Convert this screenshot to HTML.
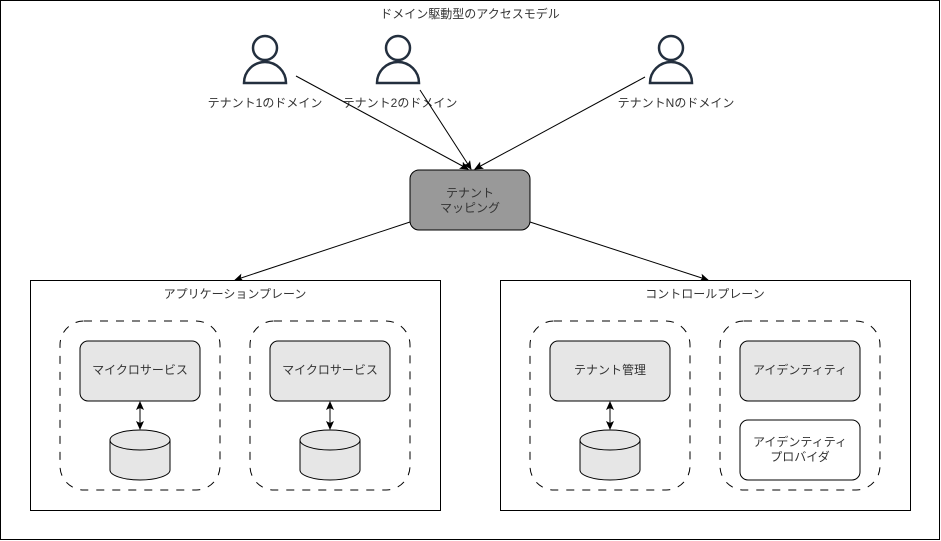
<!DOCTYPE html>
<html><head><meta charset="utf-8"><style>
html,body{margin:0;padding:0;background:#fff;}
svg{display:block;}
text{font-family:"Liberation Sans","Noto Sans CJK JP",sans-serif;font-size:12px;fill:#333;text-anchor:middle;}
</style></head><body>
<svg width="941" height="541" viewBox="0 0 941 541">
<defs>
<marker id="a" markerWidth="10" markerHeight="10" refX="8" refY="4" orient="auto" markerUnits="userSpaceOnUse">
<path d="M0,0 L9,4 L0,8 L2,4 Z" fill="#000"/></marker>
<marker id="as" markerWidth="10" markerHeight="10" refX="1" refY="4" orient="auto" markerUnits="userSpaceOnUse">
<path d="M9,0 L0,4 L9,8 L7,4 Z" fill="#000"/></marker>
</defs>
<rect x="0.5" y="0.5" width="939" height="539" fill="#fff" stroke="#000"/>
<text x="470" y="18">ドメイン駆動型のアクセスモデル</text>

<g fill="none" stroke="#232f3e" stroke-width="2.5">
<circle cx="265" cy="48" r="12"/><path d="M244,83 A21,21 0 0 1 286,83 Z"/>
<circle cx="398" cy="48" r="12"/><path d="M377,83 A21,21 0 0 1 419,83 Z"/>
<circle cx="671" cy="48" r="12"/><path d="M650,83 A21,21 0 0 1 692,83 Z"/>
</g>
<text x="265" y="107">テナント1のドメイン</text>
<text x="400" y="107">テナント2のドメイン</text>
<text x="676" y="107">テナントNのドメイン</text>

<g stroke="#000" stroke-width="1" fill="none">
<line x1="296" y1="76" x2="468" y2="169" marker-end="url(#a)"/>
<line x1="420" y1="90" x2="471" y2="169" marker-end="url(#a)"/>
<line x1="645" y1="77" x2="475" y2="169" marker-end="url(#a)"/>
<line x1="410" y1="222" x2="235" y2="280" marker-end="url(#a)"/>
<line x1="530" y1="222" x2="708" y2="280" marker-end="url(#a)"/>
</g>

<rect x="410" y="170" width="120" height="60" rx="9" fill="#999" stroke="#000"/>
<text x="470" y="197">テナント</text>
<text x="470" y="212">マッピング</text>

<rect x="30.5" y="280.5" width="410" height="230" fill="#fff" stroke="#000"/>
<text x="235" y="298">アプリケーションプレーン</text>
<rect x="500.5" y="280.5" width="410" height="230" fill="#fff" stroke="#000"/>
<text x="705" y="298">コントロールプレーン</text>

<g fill="none" stroke="#000" stroke-dasharray="8 8">
<rect x="60" y="321" width="160" height="169" rx="24"/>
<rect x="250" y="321" width="160" height="169" rx="24"/>
<rect x="530" y="321" width="160" height="169" rx="24"/>
<rect x="720" y="321" width="160" height="169" rx="24"/>
</g>

<g fill="#e6e6e6" stroke="#000">
<rect x="80" y="341" width="120" height="60" rx="8"/>
<rect x="270" y="341" width="120" height="60" rx="8"/>
<rect x="550" y="341" width="120" height="60" rx="8"/>
<rect x="740" y="341" width="120" height="60" rx="8"/>
</g>
<rect x="740" y="420" width="120" height="60" rx="8" fill="#fff" stroke="#000"/>
<text x="140" y="374">マイクロサービス</text>
<text x="330" y="374">マイクロサービス</text>
<text x="610" y="374">テナント管理</text>
<text x="800" y="374">アイデンティティ</text>
<text x="800" y="446">アイデンティティ</text>
<text x="800" y="461">プロバイダ</text>

<g fill="#e6e6e6" stroke="#000">
<path d="M110,440 L110,470 A30,10 0 0 0 170,470 L170,440"/><ellipse cx="140" cy="440" rx="30" ry="10"/>
<path d="M300,440 L300,470 A30,10 0 0 0 360,470 L360,440"/><ellipse cx="330" cy="440" rx="30" ry="10"/>
<path d="M580,440 L580,470 A30,10 0 0 0 640,470 L640,440"/><ellipse cx="610" cy="440" rx="30" ry="10"/>
</g>
<g stroke="#000" stroke-width="1">
<line x1="140" y1="402" x2="140" y2="429" marker-end="url(#a)" marker-start="url(#as)"/>
<line x1="330" y1="402" x2="330" y2="429" marker-end="url(#a)" marker-start="url(#as)"/>
<line x1="610" y1="402" x2="610" y2="429" marker-end="url(#a)" marker-start="url(#as)"/>
</g>
</svg>
</body></html>
